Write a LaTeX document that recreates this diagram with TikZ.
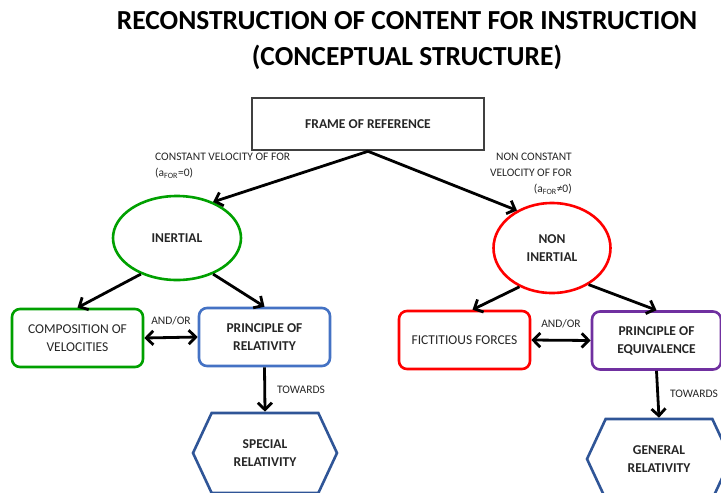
\documentclass[tikz,border=0pt]{standalone}
\usepackage{fontspec}
\setmainfont{Carlito}
\usetikzlibrary{arrows.meta,shapes.geometric,shapes.symbols}
\definecolor{framegray}{HTML}{404040}
\definecolor{inegreen}{HTML}{00A000}
\definecolor{relblue}{HTML}{4472C4}
\definecolor{eqpurple}{HTML}{7030A0}
\definecolor{hexblue}{HTML}{2F5597}
\definecolor{txtgray}{HTML}{262626}
\begin{document}
\begin{tikzpicture}[x=1pt, y=-1pt,
    box/.style={draw, rounded corners=8pt, line width=2.6pt, minimum width=131pt, minimum height=58pt,
      align=center, text=txtgray, font=\fontsize{13.5}{18}\selectfont},
    boldbox/.style={box, font=\bfseries\fontsize{13.5}{18}\selectfont},
    ell/.style={ellipse, draw, line width=2.6pt, inner sep=0pt, align=center, text=txtgray,
      font=\bfseries\fontsize{13.5}{18}\selectfont},
    hexa/.style={signal, signal from=nowhere, signal to=west and east, signal pointer angle=130,
      draw=hexblue, line width=2.6pt, minimum width=144pt, minimum height=80pt, inner sep=0pt,
      align=center, text=txtgray, font=\bfseries\fontsize{13.5}{18}\selectfont},
    arr/.style={-{Straight Barb[length=7pt,width=14pt,line width=2.8pt]}, line width=2.8pt},
    dblarr/.style={{Straight Barb[length=7pt,width=14pt,line width=2.8pt]}-{Straight Barb[length=7pt,width=14pt,line width=2.8pt]}, line width=2.8pt},
    lab/.style={text=txtgray, font=\fontsize{11.5}{16}\selectfont, inner sep=0pt}
  ]
  \useasboundingbox (0,0) rectangle (721,493);
  \clip (0,0) rectangle (721,493);

  % title
  \node[font=\bfseries\fontsize{27.5}{36}\selectfont, text=black] (title) at (407,41)
    [align=center] {RECONSTRUCTION OF CONTENT FOR INSTRUCTION\\(CONCEPTUAL STRUCTURE)};

  % top
  \node[draw=framegray, line width=2.6pt, minimum width=232pt, minimum height=52pt, text=txtgray,
    font=\bfseries\fontsize{13.5}{18}\selectfont] (frame) at (368,124) {FRAME OF REFERENCE};

  % inertial branch
  \node[ell, draw=inegreen, minimum width=128pt, minimum height=84pt] (inertial) at (177,238) {INERTIAL};
  \node[box, draw=inegreen] (comp) at (77.5,338) {COMPOSITION OF\\VELOCITIES};
  \node[boldbox, draw=relblue] (rel) at (264.5,337) {PRINCIPLE OF\\RELATIVITY};
  \node[hexa] (sr) at (265,453) {SPECIAL\\RELATIVITY};

  % non inertial branch
  \node[ell, draw=red, minimum width=117pt, minimum height=90pt] (noninertial) at (552,248) {NON\\INERTIAL};
  \node[box, draw=red] (fict) at (464.5,340) {FICTITIOUS FORCES};
  \node[boldbox, draw=eqpurple, minimum width=129pt] (eq) at (656.5,340.5) {PRINCIPLE OF\\EQUIVALENCE};
  \node[hexa] (gr) at (659,459) {GENERAL\\RELATIVITY};

  % labels
  \node[lab, anchor=north west, align=left] (constlab) at (155,153)
    {CONSTANT VELOCITY OF FOR\\(a\textsubscript{FOR}=0)};
  \node[lab, anchor=north east, align=right] (nonconstlab) at (572,153)
    {NON CONSTANT\\VELOCITY OF FOR\\(a\textsubscript{FOR}≠0)};

  % connectors
  \draw[arr] (frame.south) -- (inertial.45);
  \draw[arr] (frame.south) -- (noninertial.133);
  \draw[arr] (inertial.225) -- (comp.north);
  \draw[arr] (inertial.-45) -- (rel.north);
  \draw[arr] (noninertial.230) -- ([xshift=8pt]fict.north);
  \draw[arr] (noninertial.-45) -- (eq.north);
  \draw[dblarr] (comp.east) -- (rel.west) node[lab, midway, above=11pt] {AND/OR};
  \draw[dblarr] (fict.east) -- (eq.west) node[lab, midway, above=11pt] {AND/OR};
  \draw[arr] (rel.south) -- (sr.north) node[lab, midway, right=11pt] {TOWARDS};
  \draw[arr] (eq.south) -- (gr.north) node[lab, midway, right=11pt] {TOWARDS};
\end{tikzpicture}
\end{document}
